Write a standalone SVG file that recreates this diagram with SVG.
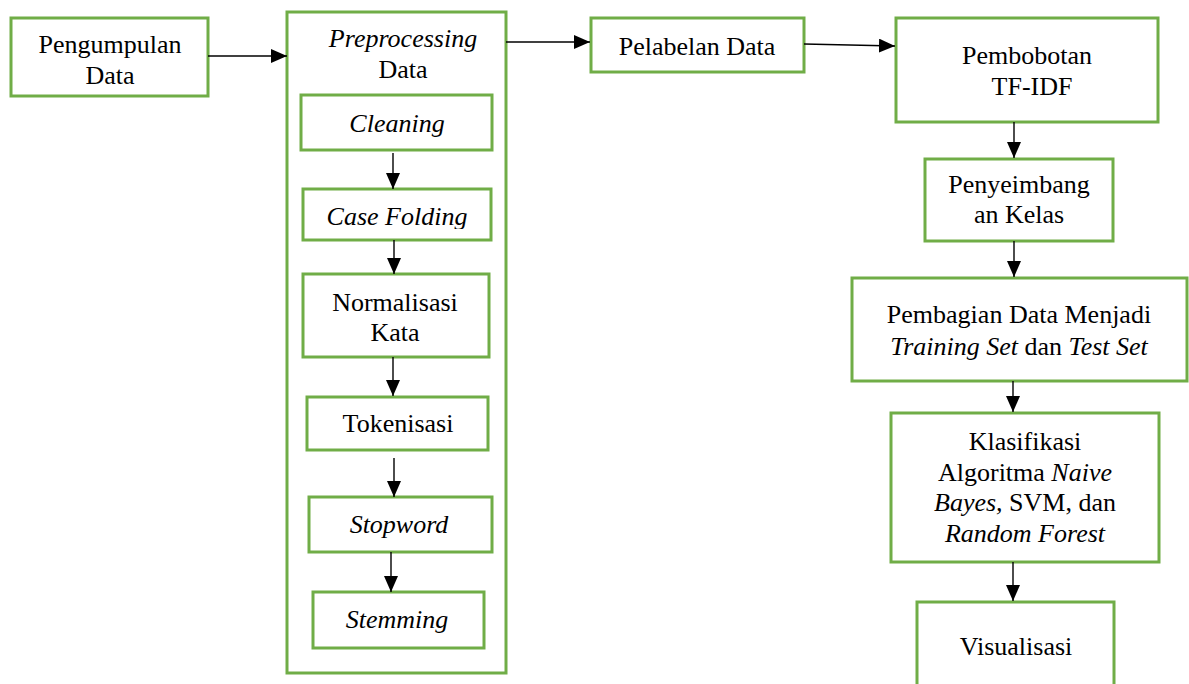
<svg xmlns="http://www.w3.org/2000/svg" width="1189" height="684" viewBox="0 0 1189 684">
<style>
.box{fill:#fff;stroke:#70AD47;stroke-width:3}
.t{font-family:'Liberation Serif','Times New Roman',serif;font-size:26px;fill:#000;text-anchor:middle}
.i{font-style:italic}
.c{stroke:#000;stroke-width:1.4;fill:none;marker-end:url(#ah)}
</style>
<defs>
<marker id="ah" markerUnits="userSpaceOnUse" markerWidth="17" markerHeight="15" refX="16" refY="7" orient="auto">
<path d="M0,0 L16,7 L0,14 z" fill="#000"/>
</marker>
<clipPath id="cfclip"><rect x="303" y="189" width="189" height="40"/></clipPath>
</defs>
<rect width="1189" height="684" fill="#fff"/>
<g id="n-pengumpulan">
<rect class="box" x="11" y="18" width="197" height="78"/>
<text class="t" x="110" y="53">Pengumpulan</text>
<text class="t" x="110" y="84">Data</text>
</g>
<g id="n-preprocessing">
<rect class="box" x="287" y="12" width="219" height="661"/>
<text class="t i" x="403" y="47">Preprocessing</text>
<text class="t" x="403" y="78">Data</text>
</g>
<g id="n-cleaning">
<rect class="box" x="301" y="95" width="191" height="55"/>
<text class="t i" x="397" y="132">Cleaning</text>
</g>
<g id="n-casefolding">
<rect class="box" x="303" y="189" width="188" height="51"/>
<text class="t i" x="397" y="225" clip-path="url(#cfclip)">Case Folding</text>
</g>
<g id="n-normalisasi">
<rect class="box" x="303" y="274" width="186" height="83"/>
<text class="t" x="395" y="311">Normalisasi</text>
<text class="t" x="395" y="341">Kata</text>
</g>
<g id="n-tokenisasi">
<rect class="box" x="307" y="397" width="181" height="53"/>
<text class="t" x="398" y="432">Tokenisasi</text>
</g>
<g id="n-stopword">
<rect class="box" x="309" y="497" width="183" height="55"/>
<text class="t i" x="399" y="533">Stopword</text>
</g>
<g id="n-stemming">
<rect class="box" x="313" y="592" width="171" height="56"/>
<text class="t i" x="397" y="628">Stemming</text>
</g>
<g id="n-pelabelan">
<rect class="box" x="591" y="18" width="213" height="54"/>
<text class="t" x="697" y="55">Pelabelan Data</text>
</g>
<g id="n-pembobotan">
<rect class="box" x="896" y="18" width="262" height="104"/>
<text class="t" x="1027" y="64">Pembobotan</text>
<text class="t" x="1032" y="95">TF-IDF</text>
</g>
<g id="n-penyeimbangan">
<rect class="box" x="925" y="159" width="188" height="82"/>
<text class="t" x="1019" y="193">Penyeimbang</text>
<text class="t" x="1019" y="223">an Kelas</text>
</g>
<g id="n-pembagian">
<rect class="box" x="852" y="278" width="335" height="103"/>
<text class="t" x="1019" y="323">Pembagian Data Menjadi</text>
<text class="t" x="1019" y="355"><tspan class="i">Training Set</tspan> dan <tspan class="i">Test Set</tspan></text>
</g>
<g id="n-klasifikasi">
<rect class="box" x="891" y="413" width="268" height="149"/>
<text class="t" x="1025" y="450">Klasifikasi</text>
<text class="t" x="1025" y="481">Algoritma <tspan class="i">Naive</tspan></text>
<text class="t" x="1025" y="511"><tspan class="i">Bayes,</tspan> SVM, dan</text>
<text class="t" x="1025" y="542"><tspan class="i">Random Forest</tspan></text>
</g>
<g id="n-visualisasi">
<rect class="box" x="917" y="602" width="197" height="100"/>
<text class="t" x="1016" y="655">Visualisasi</text>
</g>
<g id="connectors">
<line class="c" x1="208" y1="56" x2="287" y2="56"/>
<line class="c" x1="506" y1="42" x2="590" y2="42"/>
<line class="c" x1="804" y1="44" x2="895" y2="46"/>
<line class="c" x1="393" y1="153" x2="393" y2="189"/>
<line class="c" x1="394" y1="240" x2="394" y2="274"/>
<line class="c" x1="393" y1="357" x2="393" y2="396"/>
<line class="c" x1="394" y1="458" x2="394" y2="497"/>
<line class="c" x1="391" y1="552" x2="391" y2="592"/>
<line class="c" x1="1014" y1="122" x2="1014" y2="158"/>
<line class="c" x1="1014" y1="241" x2="1014" y2="277"/>
<line class="c" x1="1013" y1="381" x2="1013" y2="412"/>
<line class="c" x1="1013" y1="562" x2="1013" y2="601"/>
</g>
</svg>
